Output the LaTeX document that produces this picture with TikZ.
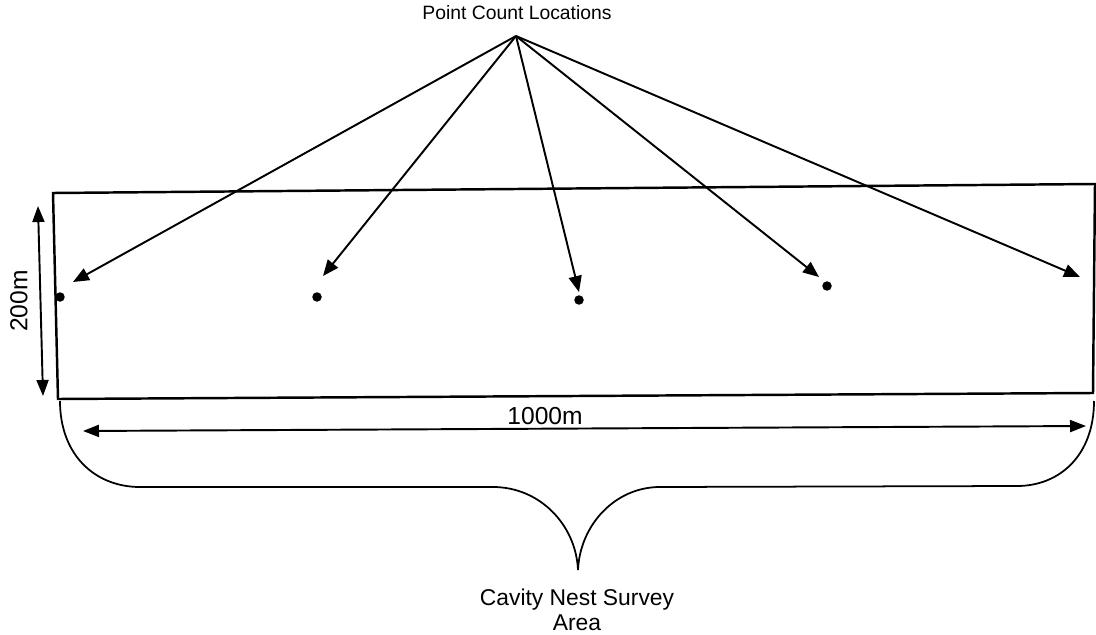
\documentclass[tikz,border=0pt]{standalone}
\usepackage{fontspec}
\setmainfont{Liberation Sans}
\usepackage{tikz}
\usetikzlibrary{positioning}
\usetikzlibrary{arrows.meta}
\pgfdeclarelayer{nodelayer}
\pgfdeclarelayer{edgelayer}
\pgfsetlayers{nodelayer,edgelayer,main}
\tikzset{
    none/.style = {inner sep=0pt},
    site/.style = {circle, fill, inner sep=0pt, minimum size=0.19cm},
    pointer/.style = {-{Triangle[length=0.32cm, width=0.26cm]}, line width=1.1pt},
    span/.style = {{Triangle[length=0.32cm, width=0.24cm]}-{Triangle[length=0.32cm, width=0.24cm]}, line width=1.1pt}
}

\begin{document}
\begin{tikzpicture}[x=0.02cm, y=-0.02cm]
  \useasboundingbox (0, 0) rectangle (1096, 635);
  \begin{pgfonlayer}{nodelayer}
    \node [style=none, font=\fontsize{11}{13}\selectfont] (0) at (517, 13) {Point Count Locations};
    \coordinate (1) at (516, 36);
    % survey strip
    \coordinate (2) at (53, 193);
    \coordinate (3) at (1095, 184);
    \coordinate (4) at (1093, 393);
    \coordinate (5) at (58, 399);
    % point counts
    \node [site] (6) at (60, 297) {};
    \node [site] (7) at (317, 297) {};
    \node [site] (8) at (579, 300) {};
    \node [site] (9) at (827, 286) {};
    \coordinate (10) at (73, 282);
    \coordinate (11) at (323, 276);
    \coordinate (12) at (579, 292);
    \coordinate (13) at (819, 277);
    \coordinate (14) at (1080, 277);
    % width
    \coordinate (15) at (38, 206);
    \coordinate (16) at (43, 396);
    \node [style=none, rotate=90, font=\fontsize{14}{16}\selectfont] (17) at (19, 301) {200m};
    % length
    \coordinate (18) at (83, 431);
    \coordinate (19) at (1086, 426);
    \node [style=none, font=\fontsize{14}{16}\selectfont] (20) at (545, 416) {1000m};
    % brace
    \coordinate (21) at (60, 401);
    \coordinate (22) at (1094, 401);
    \coordinate (23) at (578, 570);
    \node [style=none, align=center, font=\fontsize{13}{14.4}\selectfont] (24) at (577, 610) {Cavity Nest Survey\\Area};
  \end{pgfonlayer}
  \begin{pgfonlayer}{edgelayer}
    \draw [line width=1.4pt] (2) -- (3) -- (4) -- (5) -- cycle;
    \draw [pointer] (1) to (10);
    \draw [pointer] (1) to (11);
    \draw [pointer] (1) to (12);
    \draw [pointer] (1) to (13);
    \draw [pointer] (1) to (14);
    \draw [span] (15) to (16);
    \draw [span] (18) to (19);
    \draw [line width=1pt] (21) .. controls (60, 455) and (95, 487) .. (140, 487) -- (493, 487) .. controls (540, 487) and (576, 525) .. (23);
    \draw [line width=1pt] (22) .. controls (1094, 455) and (1060, 486) .. (1017, 486) -- (660, 487) .. controls (615, 487) and (580, 525) .. (23);
  \end{pgfonlayer}
\end{tikzpicture}
\end{document}
